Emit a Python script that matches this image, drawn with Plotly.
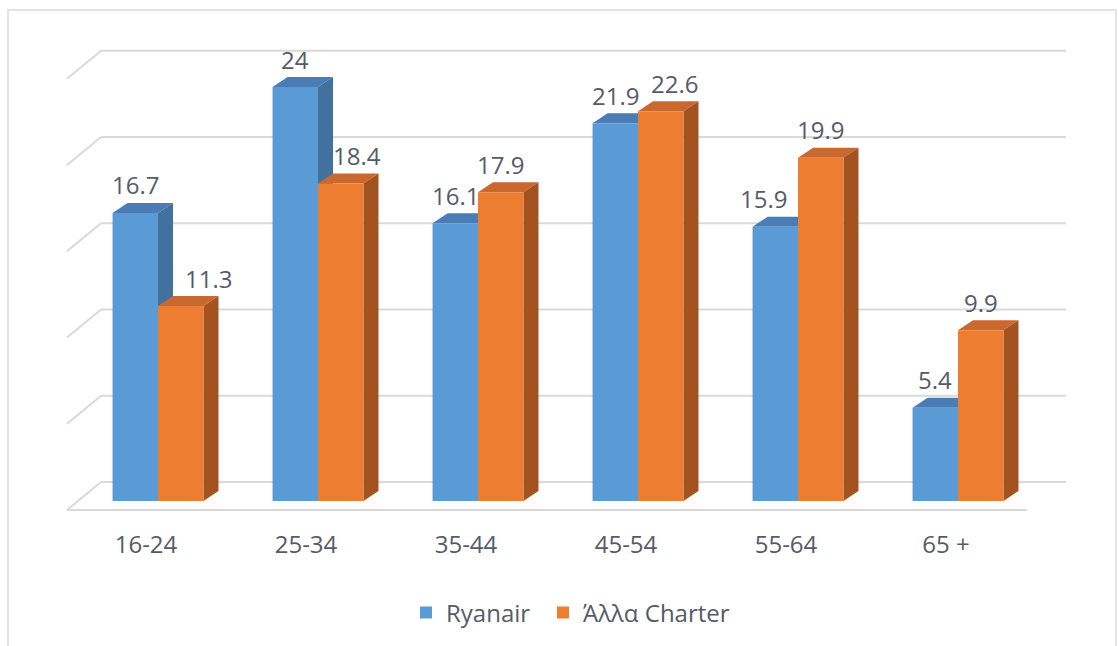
import plotly.graph_objects as go

# ---- data ----
categories = ["16-24", "25-34", "35-44", "45-54", "55-64", "65 +"]
ryanair = [16.7, 24, 16.1, 21.9, 15.9, 5.4]
charter = [11.3, 18.4, 17.9, 22.6, 19.9, 9.9]
series_names = ["Ryanair", "Άλλα Charter"]
grid_values = [0, 5, 10, 15, 20, 25]

# horizontal nudges (px) for labels that would otherwise collide
ryanair_label_shift = [0, 0, 0, 0, -12, 0]
charter_label_shift = [28, 16, 0, 14, 0, 0]

# ---- styling / pseudo-3D geometry (axis units) ----
FONT = "Open Sans"
TEXT = "#555b66"
GRID = "#d9d9d9"
FRONT = ["#5b9bd5", "#ed7d31"]
TOP = ["#4a7db5", "#c9692f"]
SIDE = ["#41719c", "#a4521f"]

BAR_W = 0.284          # width of one bar front face
DEPTH_DX = 0.094       # depth offset of bar top/side faces
DEPTH_DY = 0.58
WALL_BACK_DY = 1.10    # back wall raised relative to bar base
WALL_FRONT_DY = -0.52  # front edge of the floor
WALL_X_FRONT = -0.569
WALL_X_BACK = -0.356
FLOOR_X_END = 5.431
WALL_X_END = 5.675

X_RANGE = [-0.75, 5.75]
Y_RANGE = [-1.449, 27.884]
PLOT_LEFT_PX, PLOT_W_PX = 38, 1040

fig = go.Figure()


def add_faces(x_left, value, k):
    x_right = x_left + BAR_W
    # top face
    fig.add_trace(go.Scatter(
        x=[x_left, x_right, x_right + DEPTH_DX, x_left + DEPTH_DX, x_left],
        y=[value, value, value + DEPTH_DY, value + DEPTH_DY, value],
        fill="toself", fillcolor=TOP[k], mode="lines",
        line=dict(width=0, color=TOP[k]), showlegend=False, hoverinfo="skip"))
    # right side face
    fig.add_trace(go.Scatter(
        x=[x_right, x_right, x_right + DEPTH_DX, x_right + DEPTH_DX, x_right],
        y=[0, value, value + DEPTH_DY, DEPTH_DY, 0],
        fill="toself", fillcolor=SIDE[k], mode="lines",
        line=dict(width=0, color=SIDE[k]), showlegend=False, hoverinfo="skip"))


xs = list(range(len(categories)))
for i in xs:
    add_faces(i - BAR_W, ryanair[i], 0)
    add_faces(i, charter[i], 1)

# front faces on an overlaid subplot so they sit above every top/side face
legend_ids = ["legend", "legend2"]
for k, (vals, name) in enumerate(zip([ryanair, charter], series_names)):
    offs = -BAR_W / 2 if k == 0 else BAR_W / 2
    fig.add_trace(go.Bar(
        x=[i + offs for i in xs], y=vals, width=BAR_W, name=name,
        marker=dict(color=FRONT[k], line=dict(width=0)),
        xaxis="x2", yaxis="y2", hoverinfo="skip", legend=legend_ids[k]))

# back wall, side wall and floor lines
shapes = []
for g in grid_values:
    yb = g + WALL_BACK_DY
    shapes.append(dict(type="line", xref="x", yref="y", x0=WALL_X_BACK, x1=WALL_X_END,
                       y0=yb, y1=yb, line=dict(color=GRID, width=2), layer="below"))
    shapes.append(dict(type="line", xref="x", yref="y", x0=WALL_X_FRONT, x1=WALL_X_BACK,
                       y0=g + WALL_FRONT_DY, y1=yb, line=dict(color=GRID, width=2), layer="below"))
shapes.append(dict(type="line", xref="x", yref="y", x0=WALL_X_FRONT, x1=FLOOR_X_END,
                   y0=WALL_FRONT_DY, y1=WALL_FRONT_DY, line=dict(color=GRID, width=2), layer="below"))
# chart area border
shapes.append(dict(type="rect", xref="paper", yref="paper",
                   x0=(8 - PLOT_LEFT_PX) / PLOT_W_PX, x1=(1116 - PLOT_LEFT_PX) / PLOT_W_PX,
                   y0=-0.3, y1=1 + 10 / 506,
                   line=dict(color="#e3e3e3", width=2), layer="below"))

annotations = []
for k, (vals, shifts) in enumerate([(ryanair, ryanair_label_shift), (charter, charter_label_shift)]):
    offs = -BAR_W / 2 if k == 0 else BAR_W / 2
    for i in xs:
        annotations.append(dict(
            x=i + offs, y=vals[i], xref="x", yref="y", text=f"{vals[i]:g}",
            showarrow=False, yshift=28, xshift=shifts[i], yanchor="middle",
            font=dict(family=FONT, size=24, color=TEXT)))


def legend_at(px_left):
    return dict(orientation="h", xref="paper", x=(px_left - PLOT_LEFT_PX) / PLOT_W_PX,
                xanchor="left", yref="container", y=1 - 613 / 646, yanchor="middle",
                itemwidth=30, font=dict(family=FONT, size=24, color=TEXT),
                bgcolor="rgba(0,0,0,0)")


axis_common = dict(showgrid=False, zeroline=False, showline=False, fixedrange=True)
fig.update_layout(
    width=1118, height=646,
    margin=dict(l=PLOT_LEFT_PX, r=1118 - PLOT_LEFT_PX - PLOT_W_PX, t=20, b=120),
    paper_bgcolor="white", plot_bgcolor="white",
    barmode="overlay",
    xaxis=dict(range=X_RANGE, tickvals=[i - 0.075 for i in xs], ticktext=categories,
               ticks="", ticklabelstandoff=2,
               tickfont=dict(family=FONT, size=24, color=TEXT), **axis_common),
    yaxis=dict(range=Y_RANGE, showticklabels=False, ticks="", **axis_common),
    xaxis2=dict(range=X_RANGE, overlaying="x", visible=False, **axis_common),
    yaxis2=dict(range=Y_RANGE, overlaying="y", visible=False, **axis_common),
    shapes=shapes, annotations=annotations,
    showlegend=True,
    legend=legend_at(406),
    legend2=legend_at(543),
)

fig.write_html("out.html")
